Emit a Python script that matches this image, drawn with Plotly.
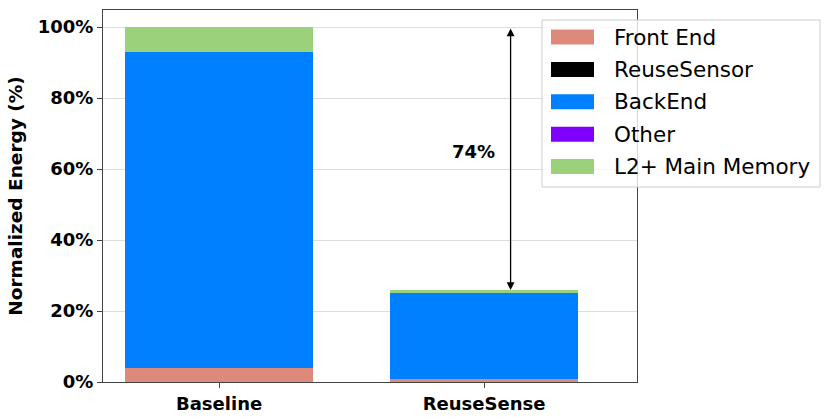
import plotly.graph_objects as go

# categories and stacked components (% of baseline energy)
configs = ["Baseline", "ReuseSense"]
front_end = [4.0, 0.8]
reuse_sensor = [0.0, 0.0]
back_end = [89.0, 24.2]
other = [0.0, 0.0]
l2_mem = [7.0, 0.9]
yticks = [0, 20, 40, 60, 80, 100]

series = [
    ("Front End", front_end, "#DE8A7A"),
    ("ReuseSensor", reuse_sensor, "#000000"),
    ("BackEnd", back_end, "#0080FF"),
    ("Other", other, "#8000FF"),
    ("L2+ Main Memory", l2_mem, "#9BD17A"),
]

# plot area in pixels (used for placing the hand-made legend)
L, R, T, B = 103, 637, 10, 382
def px_x(p):
    return (p - L) / (R - L)
def px_y(p):
    return (B - p) / (B - T)

fig = go.Figure()
for name, vals, col in series:
    fig.add_trace(go.Bar(x=[0, 1], y=vals, name=name, marker_color=col,
                         marker_line_width=0, width=0.71, showlegend=False))

reuse_total = sum(s[1][1] for s in series)
saving = 100 - reuse_total

# double headed arrow between baseline top and reusesense top
fig.add_annotation(x=1.1, y=reuse_total, ax=1.1, ay=100, xref="x", yref="y",
                   axref="x", ayref="y", showarrow=True, arrowhead=2,
                   startarrowhead=2, arrowside="end+start", arrowwidth=1.3,
                   arrowsize=1.2, startarrowsize=1.2, arrowcolor="black", text="")
fig.add_annotation(x=0.96, y=65, xref="x", yref="y", showarrow=False,
                   text="<b>%d%%</b>" % round(saving),
                   font=dict(size=18, color="black", family="DejaVu Sans"))

# legend box (matplotlib style, semi transparent)
fig.add_shape(type="rect", xref="paper", yref="paper",
              x0=px_x(542), x1=px_x(820), y0=px_y(187), y1=px_y(20),
              line=dict(color="#CCCCCC", width=1),
              fillcolor="rgba(255,255,255,0.8)", layer="above")
for i, (name, vals, col) in enumerate(series):
    cy = 37 + i * 32.4
    fig.add_shape(type="rect", xref="paper", yref="paper",
                  x0=px_x(551), x1=px_x(594), y0=px_y(cy + 7.5), y1=px_y(cy - 7.5),
                  line=dict(width=0), fillcolor=col, layer="above")
    fig.add_annotation(x=px_x(612), y=px_y(cy), xref="paper", yref="paper",
                       text=name, showarrow=False, xanchor="left", yanchor="middle",
                       font=dict(size=21.5, color="black", family="DejaVu Sans"))

fig.update_layout(
    barmode="stack",
    width=831, height=420,
    margin=dict(l=L, r=831 - R, t=T, b=420 - B),
    plot_bgcolor="white", paper_bgcolor="white",
    font=dict(family="DejaVu Sans", color="black"),
    showlegend=False,
)
fig.update_xaxes(range=[-0.438, 1.577], tickvals=[0, 1], ticktext=configs,
                 tickfont=dict(size=18, weight="bold"), showline=True,
                 linecolor="#444", linewidth=1.2, mirror=True, ticks="outside",
                 ticklen=5, tickcolor="#444", showgrid=False, automargin=False)
fig.update_yaxes(range=[0, 104.8], tickvals=yticks,
                 ticktext=["%d%%" % v for v in yticks],
                 tickfont=dict(size=18, weight="bold"),
                 title=dict(text="Normalized Energy (%)",
                            font=dict(size=18.5, weight="bold"), standoff=10),
                 showline=True, linecolor="#444", linewidth=1.2, mirror=True,
                 ticks="outside", ticklen=5, tickcolor="#444", automargin=False,
                 showgrid=True, gridcolor="#DDDDDD", zeroline=False)

fig.write_html("out.html", config={"displayModeBar": False},
               post_script="document.body.style.margin='0';")
